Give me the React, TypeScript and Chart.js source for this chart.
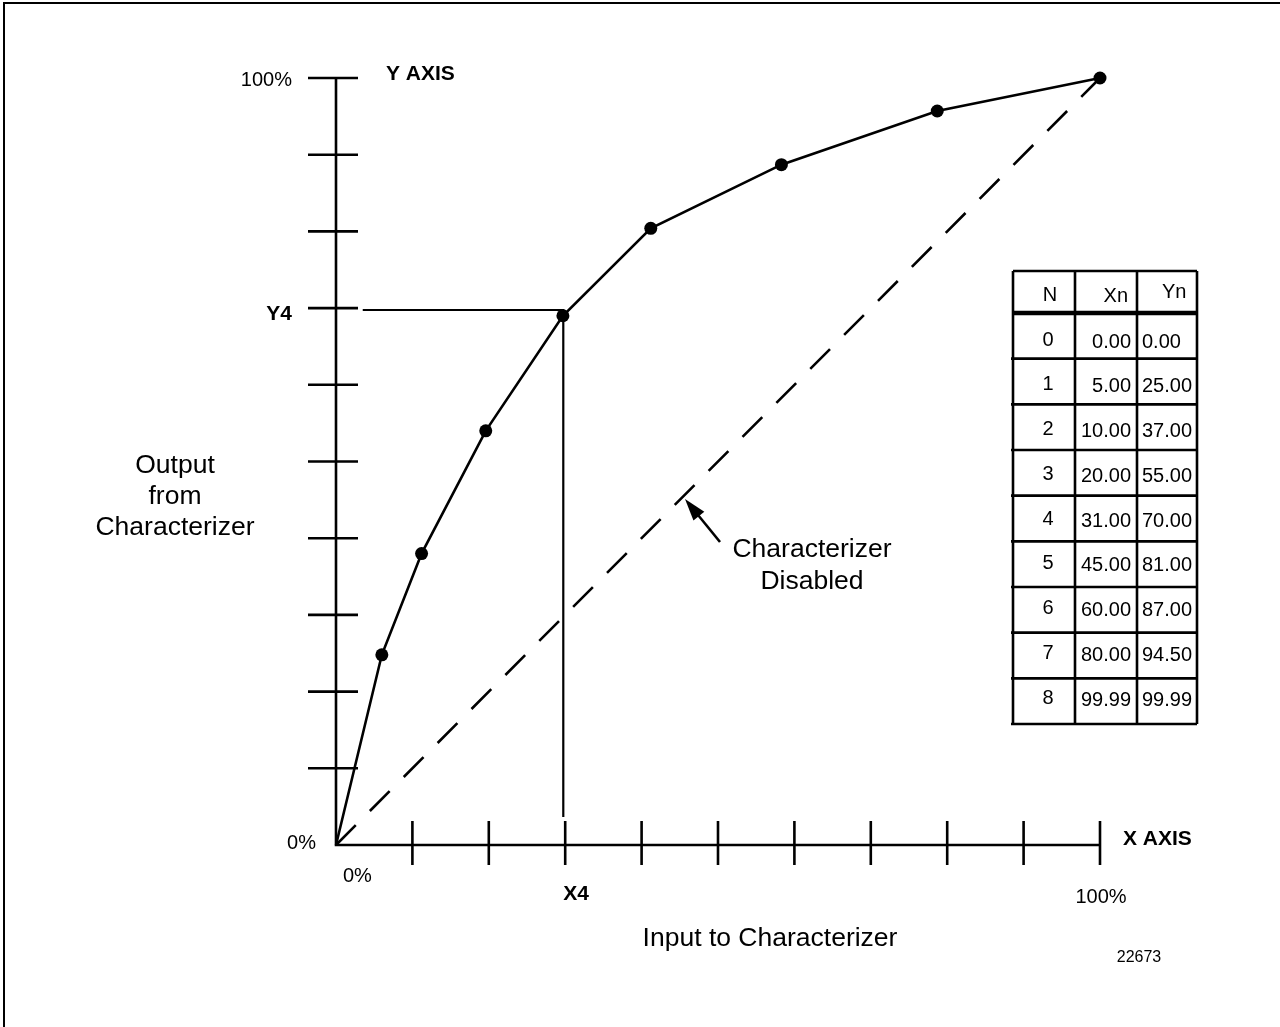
import React, { useEffect, useRef } from "react";
import { Chart, registerables } from "chart.js";

Chart.register(...registerables);

// ---- data ----
const CURVE_X = [0, 6.0, 11.2, 19.6, 29.7, 41.2, 58.3, 78.7, 100];
const CURVE_Y = [0, 24.8, 38.0, 54.0, 69.0, 80.4, 88.7, 95.7, 100];
const DIAG_X = [0, 100];
const DIAG_Y = [0, 100];
const X4_VALUE = 29.75;
const Y4_VALUE = 69.75;
const GUIDE_X = [3.5, X4_VALUE, X4_VALUE];
const GUIDE_Y = [Y4_VALUE, Y4_VALUE, 3.65];
const AXIS_TICKS = [10, 20, 30, 40, 50, 60, 70, 80, 90, 100];

const TABLE_N = [0, 1, 2, 3, 4, 5, 6, 7, 8];
const TABLE_XN = [0.0, 5.0, 10.0, 20.0, 31.0, 45.0, 60.0, 80.0, 99.99];
const TABLE_YN = [0.0, 25.0, 37.0, 55.0, 70.0, 81.0, 87.0, 94.5, 99.99];

const FONT = "'Liberation Sans', Arial, Helvetica, sans-serif";

const toPts = (xs: number[], ys: number[]) => xs.map((x, i) => ({ x, y: ys[i] }));

const drawPlugin = {
  id: "schematic",
  beforeDatasetsDraw(chart: any) {
    const ctx: CanvasRenderingContext2D = chart.ctx;
    const xs = chart.scales.x;
    const ys = chart.scales.y;
    const x0 = xs.getPixelForValue(0);
    const x1 = xs.getPixelForValue(100);
    const y0 = ys.getPixelForValue(0);
    const y1 = ys.getPixelForValue(100);
    ctx.save();
    ctx.strokeStyle = "#000";
    ctx.lineCap = "butt";
    // frame (top and left only)
    ctx.lineWidth = 2;
    ctx.beginPath();
    ctx.moveTo(3, 3);
    ctx.lineTo(1280, 3);
    ctx.moveTo(4, 3);
    ctx.lineTo(4, 1027);
    ctx.stroke();
    // axes
    ctx.lineWidth = 2.6;
    ctx.beginPath();
    ctx.moveTo(x0, y1);
    ctx.lineTo(x0, y0);
    ctx.lineTo(x1, y0);
    ctx.stroke();
    // ticks
    ctx.beginPath();
    AXIS_TICKS.forEach((v) => {
      const py = ys.getPixelForValue(v);
      ctx.moveTo(x0 - 28, py);
      ctx.lineTo(x0 + 22, py);
      const px = xs.getPixelForValue(v);
      ctx.moveTo(px, y0 - 24);
      ctx.lineTo(px, y0 + 20);
    });
    ctx.stroke();
    ctx.restore();
  },
  afterDraw(chart: any) {
    const ctx: CanvasRenderingContext2D = chart.ctx;
    ctx.save();
    ctx.fillStyle = "#000";
    ctx.strokeStyle = "#000";
    ctx.textBaseline = "middle";

    const text = (s: string, x: number, y: number, size: number, align: CanvasTextAlign, bold = false) => {
      ctx.font = `${bold ? "bold " : ""}${size}px ${FONT}`;
      ctx.textAlign = align;
      ctx.fillText(s, x, y);
    };

    // axis labels
    text("100%", 292, 80, 20, "right");
    text("Y AXIS", 386, 74, 21, "left", true);
    text("Y4", 292, 314, 21, "right", true);
    text("0%", 316, 843, 20, "right");
    text("0%", 343, 876, 20, "left");
    text("X4", 576, 894, 21, "center", true);
    text("100%", 1101, 897, 20, "center");
    text("X AXIS", 1123, 839, 21, "left", true);
    text("Input to Characterizer", 770, 939, 26.5, "center");
    text("22673", 1139, 958, 16, "center");
    text("Output", 175, 466, 26.5, "center");
    text("from", 175, 497, 26.5, "center");
    text("Characterizer", 175, 528, 26.5, "center");
    text("Characterizer", 812, 550, 26.5, "center");
    text("Disabled", 812, 582, 26.5, "center");

    // arrow
    const tx = 685, ty = 499, sx = 720, sy = 542;
    const ang = Math.atan2(ty - sy, tx - sx);
    ctx.lineWidth = 2.6;
    ctx.beginPath();
    ctx.moveTo(sx, sy);
    ctx.lineTo(tx - Math.cos(ang) * 10, ty - Math.sin(ang) * 10);
    ctx.stroke();
    const L = 22, W = 7;
    ctx.beginPath();
    ctx.moveTo(tx, ty);
    ctx.lineTo(tx - Math.cos(ang) * L - Math.sin(ang) * W, ty - Math.sin(ang) * L + Math.cos(ang) * W);
    ctx.lineTo(tx - Math.cos(ang) * L + Math.sin(ang) * W, ty - Math.sin(ang) * L - Math.cos(ang) * W);
    ctx.closePath();
    ctx.fill();

    // table
    const cols = [1013, 1075, 1137, 1197];
    const top = 271, headBottom = 313, bottom = 724;
    const rowH = (bottom - headBottom) / TABLE_N.length;
    ctx.lineWidth = 2.6;
    ctx.beginPath();
    cols.forEach((c) => {
      ctx.moveTo(c, top);
      ctx.lineTo(c, bottom);
    });
    ctx.moveTo(cols[0], top);
    ctx.lineTo(cols[3], top);
    for (let i = 1; i <= TABLE_N.length; i++) {
      const y = headBottom + rowH * i;
      ctx.moveTo(cols[0] - 2, y);
      ctx.lineTo(cols[3], y);
    }
    ctx.stroke();
    ctx.lineWidth = 4.5;
    ctx.beginPath();
    ctx.moveTo(cols[0], headBottom);
    ctx.lineTo(cols[3], headBottom);
    ctx.stroke();

    text("N", 1050, 295, 20, "center");
    text("Xn", 1128, 296, 20, "right");
    text("Yn", 1162, 292, 20, "left");
    TABLE_N.forEach((n, i) => {
      const y = 340 + i * 44.75;
      text(String(n), 1048, y, 20, "center");
      text(TABLE_XN[i].toFixed(2), 1131, y + 2, 20, "right");
      text(TABLE_YN[i].toFixed(2), 1142, y + 2, 20, "left");
    });

    ctx.restore();
  },
};

export default function App() {
  const ref = useRef<HTMLCanvasElement | null>(null);
  useEffect(() => {
    if (!ref.current) return;
    const chart = new Chart(ref.current, {
      type: "scatter",
      data: {
        datasets: [
          {
            label: "Characterizer",
            data: toPts(CURVE_X, CURVE_Y),
            showLine: true,
            borderColor: "#000",
            backgroundColor: "#000",
            borderWidth: 2.6,
            pointRadius: (c: any) => (c.dataIndex === 0 ? 0 : 6.5),
            pointBackgroundColor: "#000",
            pointBorderWidth: 0,
            clip: false,
            order: 0,
          },
          {
            label: "Characterizer Disabled",
            data: toPts(DIAG_X, DIAG_Y),
            showLine: true,
            borderColor: "#000",
            borderWidth: 2.6,
            borderDash: [28, 20],
            pointRadius: 0,
            clip: false,
            order: 2,
          },
          {
            label: "X4/Y4",
            data: toPts(GUIDE_X, GUIDE_Y),
            showLine: true,
            borderColor: "#000",
            borderWidth: 2.2,
            pointRadius: 0,
            clip: false,
            order: 1,
          },
        ],
      },
      options: {
        responsive: false,
        animation: false,
        devicePixelRatio: 1,
        layout: { padding: { left: 336, right: 180, top: 78, bottom: 182 } },
        plugins: { legend: { display: false }, tooltip: { enabled: false } },
        scales: {
          x: { type: "linear", min: 0, max: 100, display: false },
          y: { type: "linear", min: 0, max: 100, display: false },
        },
      },
      plugins: [drawPlugin],
    });
    return () => chart.destroy();
  }, []);
  return (
    <div style={{ position: "absolute", left: 0, top: 0, width: 1280, height: 1027, background: "#fff" }}>
      <canvas ref={ref} width={1280} height={1027} style={{ display: "block" }} />
    </div>
  );
}
